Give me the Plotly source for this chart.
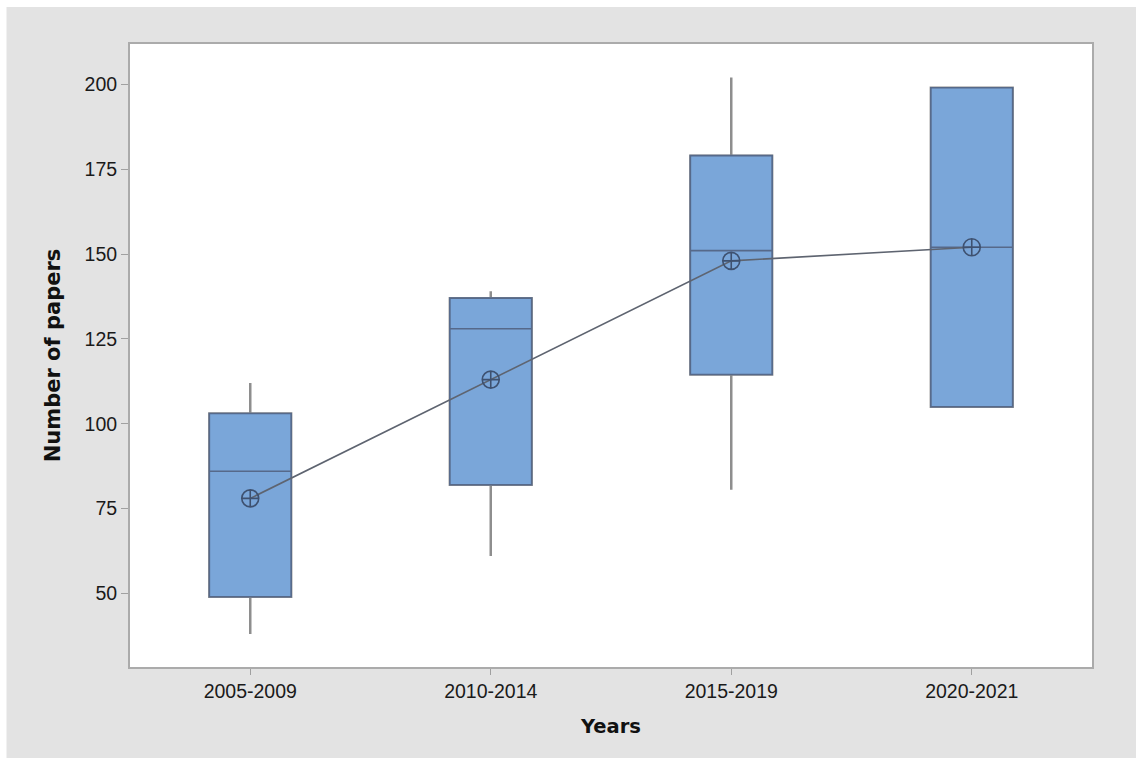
import plotly.graph_objects as go

categories = ["2005-2009", "2010-2014", "2015-2019", "2020-2021"]
q1_vals = [49, 82, 114.5, 105]
median_vals = [86, 128, 151, 152]
q3_vals = [103, 137, 179, 199]
low_whisker = [38, 61, 80.5, 105]
high_whisker = [112, 139, 202, 199]
mean_vals = [78, 113, 148, 152]
y_ticks = [50, 75, 100, 125, 150, 175, 200]

W, H = 1136, 758
ML, MR, MT, MB = 130, 44, 44, 91
pw, ph = W - ML - MR, H - MT - MB

def px_x(px):
    return (px - ML) / pw

def px_y(py):
    return (H - MB - py) / ph

fig = go.Figure()

# whiskers (gray)
fig.add_trace(go.Box(
    x=categories, q1=q1_vals, median=median_vals, q3=q3_vals,
    lowerfence=low_whisker, upperfence=high_whisker,
    width=0.34, whiskerwidth=0,
    line=dict(color="#8e8e8e", width=2.5),
    fillcolor="rgba(0,0,0,0)", boxpoints=False, showlegend=False,
    hoverinfo="skip",
))
# boxes
fig.add_trace(go.Box(
    x=categories, q1=q1_vals, median=median_vals, q3=q3_vals,
    lowerfence=q1_vals, upperfence=q3_vals,
    width=0.34, whiskerwidth=0,
    line=dict(color="#56698a", width=1.6),
    fillcolor="#7aa6d9", boxpoints=False, showlegend=False,
))
# mean connect line
fig.add_trace(go.Scatter(
    x=categories, y=mean_vals, mode="lines+markers",
    line=dict(color="#5e6470", width=1.6),
    marker=dict(symbol="circle-cross-open", size=17,
                color="#3e5170", line=dict(width=1.6, color="#3e5170")),
    showlegend=False,
))

fig.update_layout(
    width=W, height=H,
    margin=dict(l=ML, r=MR, t=MT, b=MB),
    paper_bgcolor="#e3e3e3",
    plot_bgcolor="white",
    boxmode="overlay",
    font=dict(family="Liberation Sans, Arial, sans-serif", color="#1a1a1a"),
    shapes=[
        dict(type="rect", xref="paper", yref="paper", layer="above",
             x0=px_x(-20), x1=px_x(W + 20), y0=px_y(7), y1=px_y(-20),
             fillcolor="white", line=dict(width=0)),
        dict(type="rect", xref="paper", yref="paper", layer="above",
             x0=px_x(-20), x1=px_x(6.5), y0=px_y(H + 20), y1=px_y(-20),
             fillcolor="white", line=dict(width=0)),
    ],
    xaxis=dict(
        type="category", range=[-0.5, 3.5],
        showline=True, linecolor="#ababab", linewidth=2, mirror=True,
        ticks="outside", ticklen=6, tickcolor="#a0a0a0", tickwidth=1,
        showgrid=False, zeroline=False,
        tickfont=dict(size=19.5, color="#1a1a1a"),
        title=dict(text="<b>Years</b>", standoff=18,
                   font=dict(family="DejaVu Sans, sans-serif", size=19.5, color="#111")),
    ),
    yaxis=dict(
        range=[28.3, 211.9], tickvals=y_ticks,
        showline=True, linecolor="#ababab", linewidth=2, mirror=True,
        ticks="outside", ticklen=7, tickcolor="#a0a0a0", tickwidth=1,
        showgrid=False, zeroline=False,
        tickfont=dict(size=19.5, color="#1a1a1a"),
        title=dict(text="<b>Number of papers</b>", standoff=18,
                   font=dict(family="DejaVu Sans, sans-serif", size=21, color="#111")),
    ),
)

fig.write_html("out.html")
